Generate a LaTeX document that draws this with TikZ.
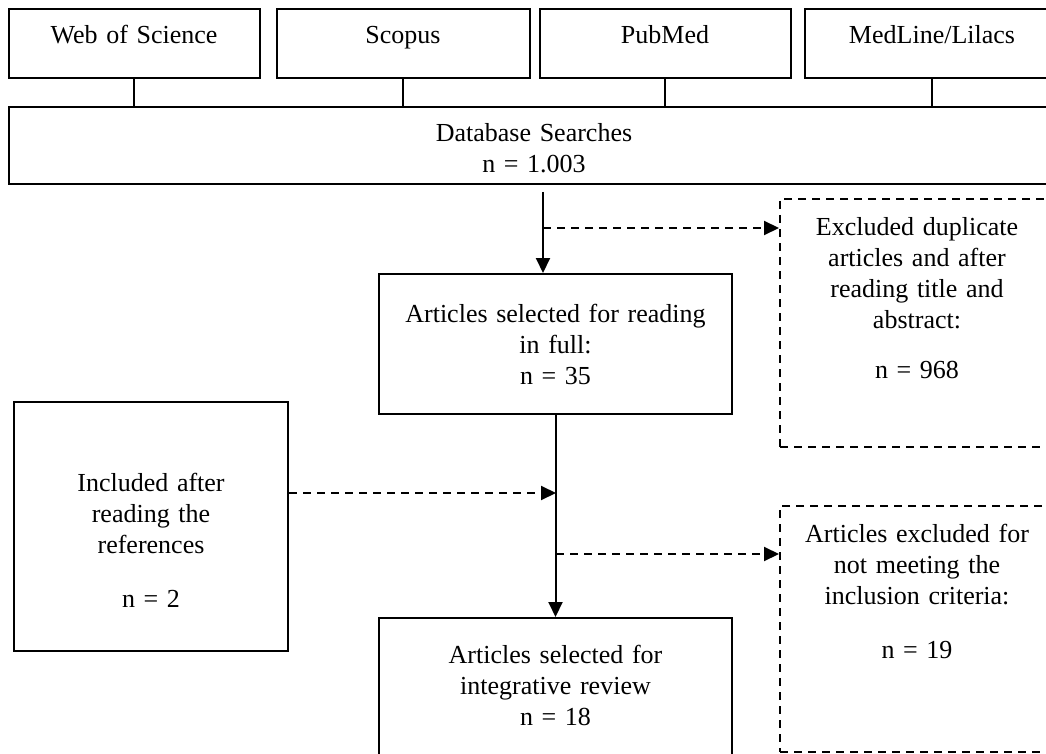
\documentclass[tikz,border=0pt]{standalone}
\usepackage{fontspec}
\setmainfont{Liberation Serif}
\usetikzlibrary{arrows.meta}

\begin{document}
\begin{tikzpicture}[x=1pt, y=-1pt, font=\fontsize{26}{31}\selectfont,
    box/.style={draw, line width=2pt, inner xsep=0pt, inner ysep=0pt, align=center},
    dashbox/.style={box, dash pattern=on 8pt off 6pt},
    flow/.style={line width=2pt, -{Triangle[length=15pt, width=14pt]}},
    dashflow/.style={flow, dash pattern=on 8pt off 6pt}]

    \useasboundingbox (0,0) rectangle (1046,754);
    \clip (0,0) rectangle (1046,754);

    % Nodes
    \node [box, minimum width=251pt, text width=240pt, text height=35pt, text depth=34pt] (wos) at (134,43.5) {Web of Science};
    \node [box, minimum width=253pt, text width=240pt, text height=35pt, text depth=34pt, right of=wos, node distance=269pt] (scopus) {Scopus};
    \node [box, minimum width=251pt, text width=240pt, text height=35pt, text depth=34pt, right of=scopus, node distance=262pt] (pubmed) {PubMed};
    \node [box, minimum width=254pt, text width=240pt, text height=35pt, text depth=34pt, right of=pubmed, node distance=267pt] (medline) {MedLine/Lilacs};
    \node [box, minimum width=1050pt, text width=400pt, text height=35pt, text depth=42pt] (db) at (534,145.5) {Database Searches\\n = 1.003};
    \node [box, minimum width=353pt, text width=340pt, text height=48pt, text depth=92pt] (read) at (555.5,344) {Articles selected for reading\\in full:\\n = 35};
    \node [dashbox, minimum width=274pt, text width=260pt, text height=36pt, text depth=212pt] (dup) at (917,323) {Excluded duplicate\\articles and after\\reading title and\\abstract:\\[19pt]n = 968};
    \node [box, minimum width=274pt, text width=260pt, text height=89pt, text depth=160pt] (incl) at (151,526.5) {Included after\\reading the\\references\\[23pt]n = 2};
    \node [box, minimum width=353pt, text width=340pt, text height=45pt, text depth=95pt] (review) at (555.5,688) {Articles selected for\\integrative review\\n = 18};
    \node [dashbox, minimum width=274pt, text width=260pt, text height=36pt, text depth=210pt] (crit) at (917,629) {Articles excluded for\\not meeting the\\inclusion criteria:\\[23pt]n = 19};
    \coordinate (s1) at (543,228);
    \coordinate (j1) at (556,493);
    \coordinate (s2) at (556,554);

    % Lines
    \draw [line width=2pt] (wos) -- (wos |- db.north);
    \draw [line width=2pt] (scopus) -- (scopus |- db.north);
    \draw [line width=2pt] (pubmed) -- (pubmed |- db.north);
    \draw [line width=2pt] (medline) -- (medline |- db.north);

    % Arrows
    \draw [flow] ([yshift=-7pt]s1 |- db.south) -- (s1 |- read.north);
    \draw [dashflow] (s1) -- (s1 -| dup.west);
    \draw [flow] (read) -- (review);
    \draw [dashflow] (incl.east |- j1) -- (j1);
    \draw [dashflow] (s2) -- (s2 -| crit.west);

\end{tikzpicture}
\end{document}
